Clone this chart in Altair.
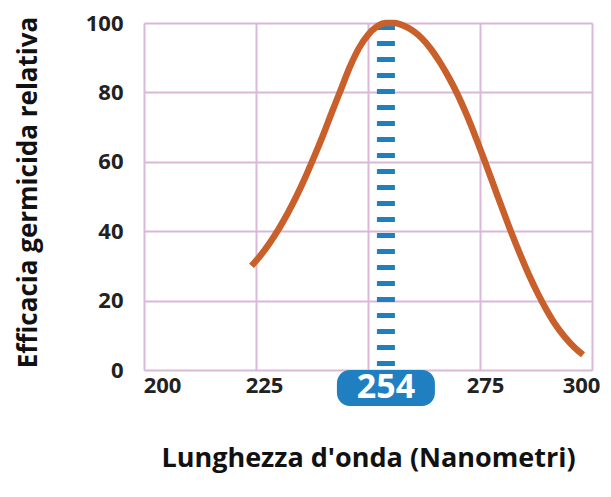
import altair as alt
import pandas as pd

# data
wavelength = [224, 226, 228, 230, 232, 234, 236, 238, 240, 242, 244, 246, 248, 250, 252, 254,
              256, 258, 260, 262, 264, 266, 268, 270, 272, 274, 276, 278, 280, 282, 284, 286,
              288, 290, 292, 294, 296, 298]
efficacy = [30, 33, 36.5, 40.5, 45, 50, 55.5, 61.5, 67.8, 74.5, 81, 87.5, 92.8, 96.6, 99, 100,
            100, 99.2, 97.8, 95.6, 92.6, 88.8, 84.4, 79.4, 73.6, 67.2, 60.4, 53.4, 46.4, 39.6, 33.2, 27.2,
            21.8, 17, 12.8, 9.4, 6.6, 4.4]
x_ticks = [200, 225, 250, 275, 300]
y_ticks = [0, 20, 40, 60, 80, 100]
peak = [254]
peak_label = ["254"]

W, H = 448, 347
GRID = "#d9b8d8"
BLUE = "#1f7fc1"
ORANGE = "#c95f2a"
FONT = "Open Sans"

curve_df = pd.DataFrame({"wl": wavelength, "eff": efficacy})
peak_df = pd.DataFrame({"wl": peak, "label": peak_label})

xscale = alt.Scale(domain=[200, 300], nice=False, zero=False)
yscale = alt.Scale(domain=[0, 100], nice=False)

label_offset = {
    "condition": [
        {"test": "datum.value == 200", "value": 18},
        {"test": "datum.value == 225", "value": 8},
        {"test": "datum.value == 275", "value": 5},
    ],
    "value": -11,
}

base = alt.Chart(curve_df)

curve = base.mark_line(color=ORANGE, strokeWidth=6.5, interpolate="monotone", strokeCap="butt").encode(
    x=alt.X("wl:Q", scale=xscale,
            axis=alt.Axis(values=x_ticks,
                          labelExpr="datum.value == 250 ? '' : datum.label",
                          labelOffset=label_offset, labelFlush=False,
                          grid=True, gridColor=GRID, gridWidth=2,
                          domain=False, ticks=False,
                          labelFont=FONT, labelFontSize=22, labelFontWeight="bold",
                          labelColor="#222222", labelPadding=5,
                          title="Lunghezza d'onda (Nanometri)",
                          titleFont=FONT, titleFontSize=27, titleFontWeight="bold",
                          titleColor="#111111", titleX=W / 2, titleY=88,
                          titleAlign="center", titleBaseline="middle")),
    y=alt.Y("eff:Q", scale=yscale,
            axis=alt.Axis(values=y_ticks, grid=True, gridColor=GRID, gridWidth=2,
                          domain=False, ticks=False,
                          labelFont=FONT, labelFontSize=22, labelFontWeight="bold",
                          labelColor="#222222", labelPadding=21,
                          title="Efficacia germicida relativa",
                          titleFont=FONT, titleFontSize=26, titleFontWeight="bold",
                          titleColor="#111111", titleX=-116, titleY=169,
                          titleAlign="center", titleBaseline="middle", titleAngle=270)),
)

peak_base = alt.Chart(peak_df)

dash = peak_base.mark_rule(color=BLUE, strokeWidth=18, strokeDash=[5, 11]).encode(
    x=alt.X("wl:Q", scale=xscale),
    y=alt.value(2),
    y2=alt.value(H),
)

badge = peak_base.mark_rect(color=BLUE, width=98, height=36, cornerRadius=13).encode(
    x=alt.X("wl:Q", scale=xscale),
    y=alt.value(H + 18),
)

badge_text = peak_base.mark_text(color="white", font=FONT, fontSize=34, fontWeight="bold",
                                 baseline="middle", align="center").encode(
    x=alt.X("wl:Q", scale=xscale),
    y=alt.value(H + 18),
    text="label:N",
)

chart = alt.layer(dash, curve, badge, badge_text).properties(
    width=W, height=H,
    autosize=alt.AutoSizeParams(type="none"),
    padding={"left": 136, "top": 15, "right": 11, "bottom": 119},
).configure_view(stroke=GRID, strokeWidth=2).configure(background="white")

chart.save("out.html", embed_options={"renderer": "svg", "actions": False})
